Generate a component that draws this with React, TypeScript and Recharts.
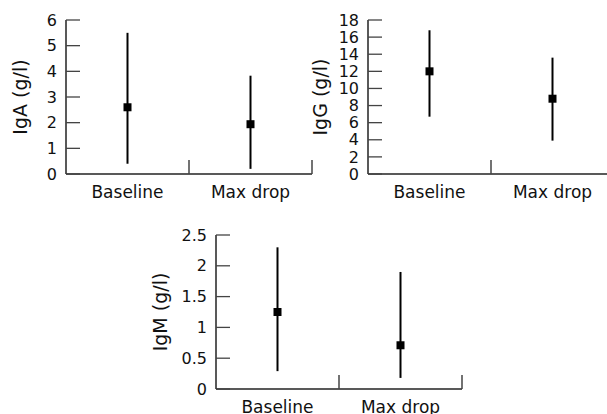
import { ComposedChart, Line, ErrorBar, XAxis, YAxis } from 'recharts';

const categories = ['Baseline', 'Max drop'];

const igaMean = [2.6, 1.94];
const igaLow = [0.4, 0.2];
const igaHigh = [5.5, 3.83];
const igaTicks = [0, 1, 2, 3, 4, 5, 6];

const iggMean = [12, 8.8];
const iggLow = [6.7, 3.9];
const iggHigh = [16.8, 13.6];
const iggTicks = [0, 2, 4, 6, 8, 10, 12, 14, 16, 18];

const igmMean = [1.25, 0.71];
const igmLow = [0.29, 0.18];
const igmHigh = [2.3, 1.9];
const igmTicks = [0, 0.5, 1, 1.5, 2, 2.5];

const FONT = '"DejaVu Sans", sans-serif';

// table for the library: mean point plus asymmetric [below, above] error
function buildRows(mean: number[], low: number[], high: number[]) {
  return categories.map((name, i) => ({
    name,
    mean: mean[i],
    err: [mean[i] - low[i], high[i] - mean[i]],
  }));
}

function SquareDot(props: any) {
  const { cx, cy } = props;
  if (cx == null || cy == null) return null;
  return <rect x={cx - 4} y={cy - 4} width={8} height={8} fill="#000" />;
}

// label under the band, plus a short upward tick at the band's right edge
function CategoryTick(props: any) {
  const { x, y, payload, width, visibleTicksCount } = props;
  const half =
    typeof width === 'number' && visibleTicksCount ? width / visibleTicksCount / 2 : 61.5;
  return (
    <g>
      <line x1={x + half} x2={x + half} y1={y} y2={y - 14} stroke="#444" strokeWidth={1.5} />
      <text x={x} y={y + 24} textAnchor="middle" fontSize={17} fill="#111" fontFamily={FONT}>
        {payload.value}
      </text>
    </g>
  );
}

interface PanelProps {
  rows: { name: string; mean: number; err: number[] }[];
  ticks: number[];
  yLabel: string;
  labelOffset: number;
  left: number;
  top: number;
}

function Panel({ rows, ticks, yLabel, labelOffset, left, top }: PanelProps) {
  return (
    <div style={{ position: 'absolute', left, top }}>
      <ComposedChart
        width={320}
        height={215}
        data={rows}
        margin={{ top: 20, right: 8, left: 0, bottom: 0 }}
      >
        <XAxis
          dataKey="name"
          type="category"
          scale="band"
          height={41}
          tickLine={false}
          tickSize={0}
          tickMargin={0}
          axisLine={{ stroke: '#222', strokeWidth: 1.5 }}
          tick={<CategoryTick />}
          interval={0}
        />
        <YAxis
          type="number"
          width={66}
          domain={[ticks[0], ticks[ticks.length - 1]]}
          ticks={ticks}
          interval={0}
          allowDataOverflow
          tickSize={-14}
          tickMargin={23}
          axisLine={{ stroke: '#222', strokeWidth: 1.5 }}
          tickLine={{ stroke: '#444', strokeWidth: 1.3 }}
          tick={{ fill: '#111', fontSize: 16, fontFamily: FONT }}
          label={{
            value: yLabel,
            angle: -90,
            position: 'insideLeft',
            offset: labelOffset,
            style: { textAnchor: 'middle', fontSize: 19, fontFamily: FONT, fill: '#111' },
          }}
        />
        <Line
          dataKey="mean"
          stroke="none"
          dot={<SquareDot />}
          activeDot={false}
          isAnimationActive={false}
        >
          <ErrorBar dataKey="err" direction="y" width={0} stroke="#000" strokeWidth={2} />
        </Line>
      </ComposedChart>
    </div>
  );
}

export default function App() {
  return (
    <div
      style={{
        position: 'absolute',
        left: 0,
        top: 0,
        width: 607,
        height: 414,
        overflow: 'hidden',
        background: '#fff',
      }}
    >
      <Panel
        rows={buildRows(igaMean, igaLow, igaHigh)}
        ticks={igaTicks}
        yLabel="IgA (g/l)"
        labelOffset={20}
        left={0}
        top={0}
      />
      <Panel
        rows={buildRows(iggMean, iggLow, iggHigh)}
        ticks={iggTicks}
        yLabel="IgG (g/l)"
        labelOffset={18}
        left={302}
        top={0}
      />
      <Panel
        rows={buildRows(igmMean, igmLow, igmHigh)}
        ticks={igmTicks}
        yLabel="IgM (g/l)"
        labelOffset={10}
        left={150}
        top={215}
      />
    </div>
  );
}
